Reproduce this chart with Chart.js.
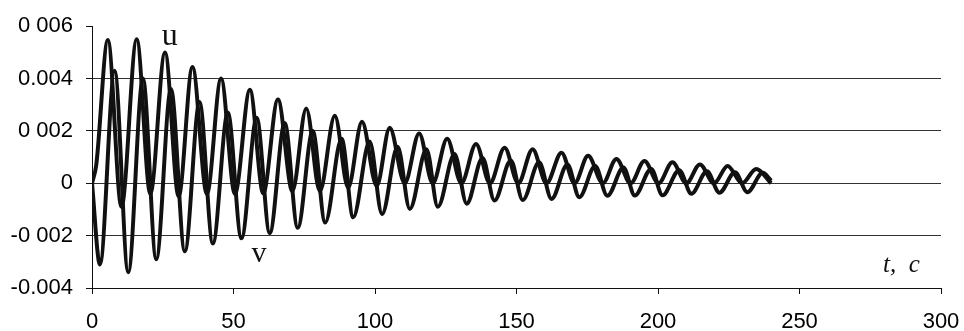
<!DOCTYPE html>
<html>
<head>
<meta charset="utf-8">
<script src="https://cdn.jsdelivr.net/npm/chart.js@4.4.1/dist/chart.umd.min.js"></script>
<style>
  body { margin: 0; background: #fff; }
  #wrap { width: 964px; height: 331px; }
</style>
</head>
<body>
<div id="wrap"><canvas id="myChart" width="964" height="331"></canvas></div>
<script>
// Données (extrema des deux courbes)
var uT = [0, 1.5, 5.6, 10.4, 15.8, 20.6, 25.8, 30.6, 35.5, 40.6, 45.6, 50.5, 55.8, 60.5, 65.7, 70.8,
          75.7, 80.5, 85.8, 90.5, 95.4, 100.6, 105.2, 110.5, 115.6, 120.4, 125.5, 130.5, 135.7, 140.6,
          145.8, 150.6, 155.7, 160.6, 165.9, 170.5, 175.3, 180.5, 185.3, 190.3, 195.2, 200.2, 205.1,
          210, 214.8, 219.8, 224.6, 229.7, 234.7, 240];
var uV = [0, 0.0007, 0.00547, -0.0009, 0.0055, -0.0004, 0.0050, -0.0005, 0.00444, -0.0004, 0.0040, -0.0004,
          0.00357, -0.00038, 0.0032, -0.0003, 0.00286, -0.0003, 0.00258, -0.00017, 0.00235, -0.0001,
          0.00212, 0, 0.0019, 0, 0.0017, 0, 0.0015, 0, 0.00136, 0, 0.0013, 0, 0.00117, 0, 0.00105, 0,
          0.00093, 0, 0.00085, 0, 0.0008, 0, 0.00072, 0, 0.00066, 0, 0.00055, 0];

var vT = [0, 2.8, 8.0, 12.8, 18.0, 22.7, 27.9, 32.8, 38.0, 42.7, 48.0, 52.8, 58.2, 62.8, 68.1, 72.7,
          78.0, 82.4, 88.2, 92.3, 98.1, 102.5, 108.0, 112.3, 118.2, 122.2, 128.1, 132.4, 138.0, 142.2,
          148.0, 152.2, 158.0, 162.4, 168.0, 172.2, 177.8, 182.1, 187.8, 191.8, 197.6, 201.6, 207.5,
          211.8, 217.3, 221.7, 227.2, 231.6, 237.0, 240];
var vV = [0, -0.0031, 0.0043, -0.0034, 0.0040, -0.0029, 0.0036, -0.0026, 0.0031, -0.0023, 0.0027, -0.0021,
          0.0025, -0.0019, 0.0023, -0.0017, 0.0020, -0.0015, 0.0017, -0.0013, 0.0016, -0.00118, 0.0014,
          -0.00098, 0.0013, -0.0009, 0.00112, -0.00078, 0.00097, -0.00066, 0.00087, -0.00064, 0.0008,
          -0.0006, 0.00072, -0.00053, 0.00066, -0.00048, 0.0006, -0.00047, 0.00055, -0.00046, 0.0005,
          -0.0004, 0.00046, -0.00036, 0.00042, -0.00034, 0.0004, 0.0001];

var yTickValues = [-0.004, -0.002, 0, 0.002, 0.004, 0.006];
var yTickLabels = ['-0.004', '-0 002', '0', '0 002', '0.004', '0 006'];

function toPoints(xs, ys) {
    var pts = [];
    for (var i = 0; i < xs.length; i++) pts.push({ x: xs[i], y: ys[i] });
    return pts;
}

// Etiquettes u, v et t, c placées en coordonnées de données
var labelsPlugin = {
    id: 'curveLabels',
    afterDatasetsDraw: function(chart) {
        var c = chart.ctx, sx = chart.scales.x, sy = chart.scales.y;
        c.save();
        c.fillStyle = '#111';
        c.textAlign = 'center';
        c.textBaseline = 'alphabetic';
        c.font = '32px "Liberation Serif"';
        c.fillText('u', sx.getPixelForValue(27.5), sy.getPixelForValue(0.0053));
        c.font = '30px "Liberation Serif"';
        c.fillText('v', sx.getPixelForValue(59), sy.getPixelForValue(-0.0030));
        c.font = 'italic 25px "Liberation Serif"';
        c.fillText('t,  c', sx.getPixelForValue(286), sy.getPixelForValue(-0.0034));
        c.restore();
    }
};

var ctx = document.getElementById('myChart').getContext('2d');
var myChart = new Chart(ctx, {
    type: 'scatter',
    data: {
        datasets: [{
            label: 'u',
            data: toPoints(uT, uV),
            showLine: true,
            borderColor: '#111',
            borderWidth: 4,
            pointRadius: 0,
            cubicInterpolationMode: 'monotone'
        }, {
            label: 'v',
            data: toPoints(vT, vV),
            showLine: true,
            borderColor: '#111',
            borderWidth: 4,
            pointRadius: 0,
            cubicInterpolationMode: 'monotone'
        }]
    },
    options: {
        responsive: false,
        animation: false,
        layout: { padding: { top: 24, right: 0, left: 0, bottom: 0 } },
        plugins: { legend: { display: false }, tooltip: { enabled: false } },
        scales: {
            x: {
                type: 'linear',
                min: 0,
                max: 300,
                afterFit: function(scale) {
                    scale.height = 43;
                    scale.paddingRight = 23;
                    scale.paddingLeft = 0;
                },
                ticks: {
                    stepSize: 50,
                    color: '#000',
                    padding: 15,
                    maxRotation: 0,
                    font: { family: '"Liberation Sans", Arial', size: 22 }
                },
                grid: { drawOnChartArea: false, drawTicks: true, tickLength: 6, tickColor: '#111' },
                border: { color: '#111', width: 1 }
            },
            y: {
                min: -0.004,
                max: 0.006,
                afterFit: function(scale) { scale.width = 92; },
                afterBuildTicks: function(scale) {
                    scale.ticks = yTickValues.map(function(v) { return { value: v }; });
                },
                ticks: {
                    color: '#000',
                    padding: 13,
                    font: { family: '"Liberation Sans", Arial', size: 22 },
                    callback: function(value) {
                        var i = yTickValues.indexOf(value);
                        return i >= 0 ? yTickLabels[i] : '';
                    }
                },
                grid: {
                    color: function(c) { return c.tick && c.tick.value === 0.006 ? 'rgba(0,0,0,0)' : '#333'; },
                    tickColor: '#111',
                    tickLength: 6,
                    lineWidth: 1
                },
                border: { color: '#111', width: 1 }
            }
        }
    },
    plugins: [labelsPlugin]
});
</script>
</body>
</html>
